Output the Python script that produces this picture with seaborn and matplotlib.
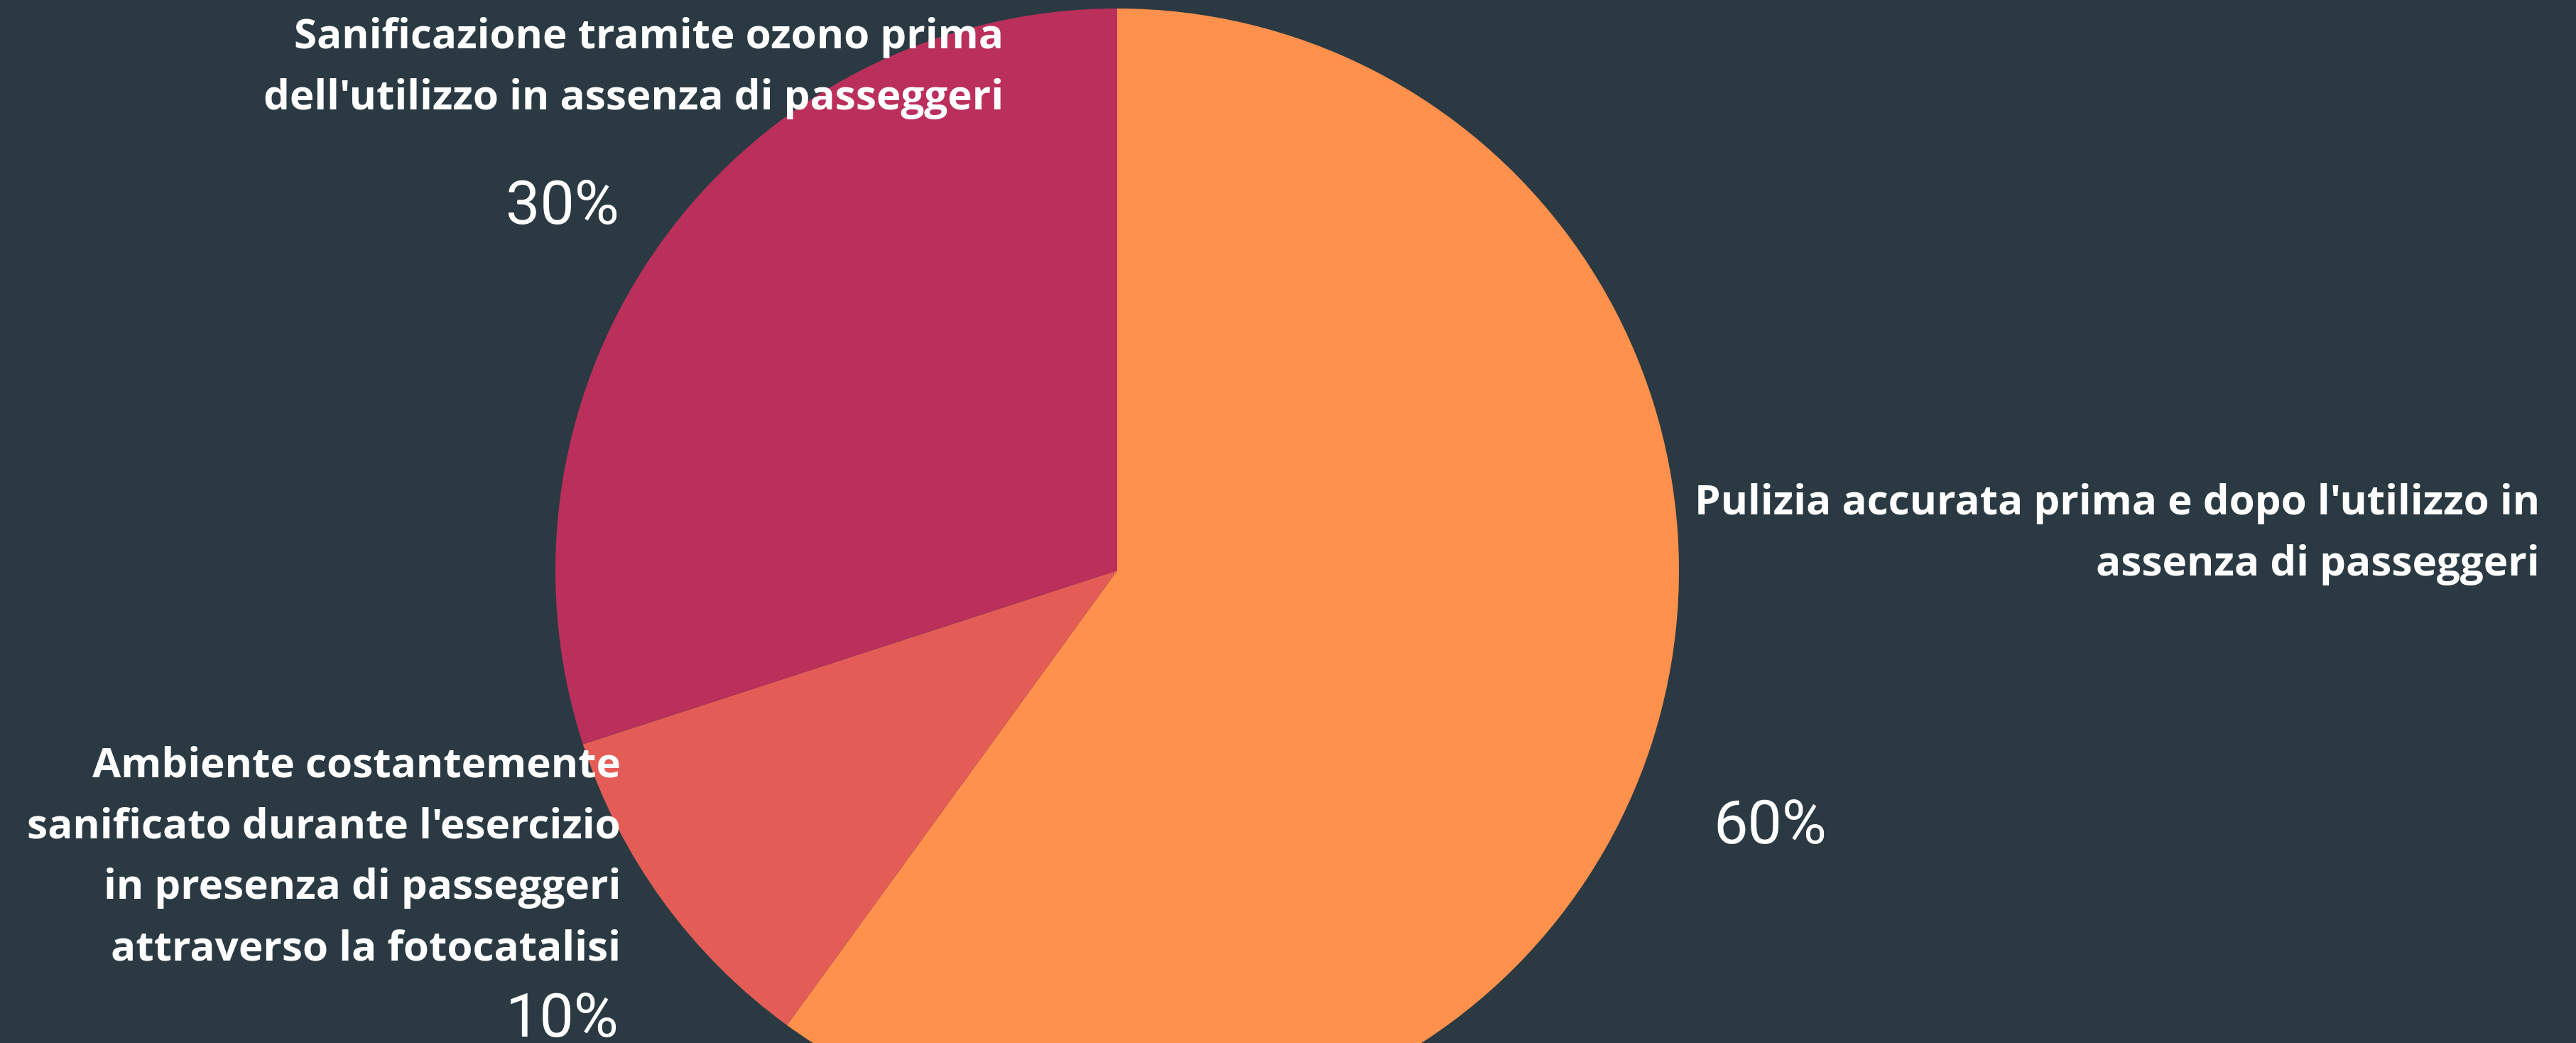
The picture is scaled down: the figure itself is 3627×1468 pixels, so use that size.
import matplotlib.pyplot as plt
import seaborn as sns

# slice data, clockwise from 12 o'clock
categories = [
    "Pulizia accurata prima e dopo l'utilizzo in\nassenza di passeggeri",
    "Ambiente costantemente\nsanificato durante l'esercizio\nin presenza di passeggeri\nattraverso la fotocatalisi",
    "Sanificazione tramite ozono prima\ndell'utilizzo in assenza di passeggeri",
]
shares = [60, 10, 30]
colors = ["#ff914d", "#e35d56", "#bb2f5b"]

BG = "#2b3a42"

sns.set_theme(style="white")
plt.rcParams['font.family'] = ['Open Sans', 'DejaVu Sans']

W, H = 3627, 1468
fig = plt.figure(figsize=(W / 100, H / 100), dpi=100, facecolor=BG)
ax = fig.add_axes([0, 0, 1, 1])
ax.set_facecolor(BG)

# pie centre / radius in pixel units (y measured upwards)
cx, cy, r = 1573, H - 803, 791
ax.pie(shares, colors=colors, startangle=90, counterclock=False,
       center=(cx, cy), radius=r, wedgeprops=dict(linewidth=0))
ax.set_xlim(0, W)
ax.set_ylim(0, H)
ax.set_aspect('equal')
ax.axis('off')

# label placement: (x, y top-of-block, ha) for name, (x, y, ha) for percentage
name_pos = [(3576, H - 680, 'right'), (874, H - 1050, 'right'), (1413, H - 24, 'right')]
pct_pos = [(2412, H - 1163, 'left'), (872, H - 1436, 'right'), (872, H - 291, 'right')]

for cat, val, (nx, ny, nha), (px, py, pha) in zip(categories, shares, name_pos, pct_pos):
    ax.text(nx, ny, cat, ha=nha, va='top', color='white', fontsize=42,
            fontweight='bold', linespacing=1.63, multialignment='right')
    ax.text(px, py, f"{val}%", ha=pha, va='center', color='white', fontsize=62,
            family=['Roboto', 'DejaVu Sans'], fontweight='normal')

fig.savefig("out.png", dpi=100, facecolor=BG)
